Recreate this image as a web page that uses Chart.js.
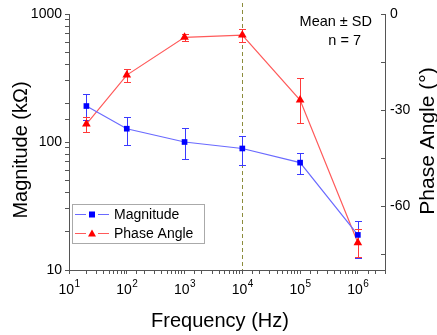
<!DOCTYPE html>
<html>
<head>
<meta charset="utf-8">
<script src="https://cdn.jsdelivr.net/npm/chart.js@4"></script>
<style>
  html, body { margin: 0; padding: 0; background: #fff; }
  #wrap { width: 437px; height: 335px; }
</style>
</head>
<body>
<div id="wrap"><canvas id="myChart" width="437" height="335"></canvas></div>
<script>
// frequency (Hz)
const freqs = [20, 100, 1000, 10000, 100000, 1000000];
// magnitude in kOhm, mean and SD bounds
const magMean = [191, 127, 100, 89, 69, 18.8];
const magHigh = [236, 158, 128, 111, 82, 24];
const magLow  = [148, 94, 74, 66, 56, 12.4];
// phase angle in degrees
const phaseMean = [-34.4, -19.1, -7.3, -6.6, -26.9, -71.5];
const phaseHigh = [-32.3, -17.3, -6.2, -4.8, -20.1, -67.3];
const phaseLow  = [-36.8, -21.2, -8.4, -8.8, -34.0, -76.0];

const xTickValues = [10, 100, 1000, 10000, 100000, 1000000];
const magLabels = [10, 100, 1000];
const phaseLabels = [0, -30, -60];
const markerLine = 10000;

const font = '"Liberation Sans", Arial, sans-serif';
const blue = '#0000ff', blueLine = '#6a6aff';
const red = '#ff0000', redLine = '#ff5a5a';

function pts(vals) {
    return freqs.map((f, i) => ({ x: f, y: vals[i] }));
}

const extras = {
    id: 'extras',
    beforeDatasetsDraw(chart) {
        const ctx = chart.ctx;
        const xs = chart.scales.x, area = chart.chartArea;
        // dashed vertical line at 10^4
        const px = Math.round(xs.getPixelForValue(markerLine)) + 0.5;
        ctx.save();
        ctx.strokeStyle = '#8c8c3c';
        ctx.lineWidth = 1;
        ctx.setLineDash([4, 3]);
        ctx.beginPath();
        ctx.moveTo(px, 3);
        ctx.lineTo(px, area.bottom);
        ctx.stroke();
        ctx.restore();

        // error bars
        const bars = [
            { axis: 'y', hi: magHigh, lo: magLow, col: '#3a3aff' },
            { axis: 'y1', hi: phaseHigh, lo: phaseLow, col: '#ff3a3a' }
        ];
        bars.forEach(b => {
            const ys = chart.scales[b.axis];
            ctx.save();
            ctx.strokeStyle = b.col;
            ctx.lineWidth = 1;
            freqs.forEach((f, i) => {
                const x = Math.round(xs.getPixelForValue(f)) + 0.5;
                const y1 = Math.round(ys.getPixelForValue(b.hi[i])) + 0.5;
                const y2 = Math.round(ys.getPixelForValue(b.lo[i])) + 0.5;
                ctx.beginPath();
                ctx.moveTo(x, y1); ctx.lineTo(x, y2);
                ctx.moveTo(x - 3.5, y1); ctx.lineTo(x + 3.5, y1);
                ctx.moveTo(x - 3.5, y2); ctx.lineTo(x + 3.5, y2);
                ctx.stroke();
            });
            ctx.restore();
        });
    },
    afterDraw(chart) {
        const ctx = chart.ctx;
        const xs = chart.scales.x, ys = chart.scales.y, yr = chart.scales.y1;
        const area = chart.chartArea;
        ctx.save();
        ctx.fillStyle = '#000';

        // tick labels
        ctx.font = '14px ' + font;
        ctx.textBaseline = 'middle';
        ctx.textAlign = 'right';
        magLabels.forEach(v => ctx.fillText(String(v), area.left - 7, ys.getPixelForValue(v)));
        ctx.textAlign = 'left';
        phaseLabels.forEach(v => ctx.fillText(String(v), area.right + 5, yr.getPixelForValue(v)));
        xTickValues.forEach(v => {
            const e = Math.round(Math.log10(v));
            const x = xs.getPixelForValue(v);
            ctx.font = '14px ' + font;
            const w1 = ctx.measureText('10').width;
            ctx.font = '10px ' + font;
            const w2 = ctx.measureText(String(e)).width;
            const x0 = x - (w1 + w2) / 2;
            ctx.textAlign = 'left';
            ctx.textBaseline = 'alphabetic';
            ctx.font = '14px ' + font;
            ctx.fillText('10', x0, area.bottom + 24);
            ctx.font = '10px ' + font;
            ctx.fillText(String(e), x0 + w1 + 0.5, area.bottom + 17);
        });

        // axis titles
        ctx.font = '20px ' + font;
        ctx.textAlign = 'center';
        ctx.textBaseline = 'middle';
        ctx.fillText('Frequency (Hz)', 220, 321);
        ctx.save();
        ctx.translate(21, 150);
        ctx.rotate(-Math.PI / 2);
        ctx.fillText('Magnitude (k\u03A9)', 0, 0);
        ctx.restore();
        ctx.save();
        ctx.translate(428, 141);
        ctx.rotate(-Math.PI / 2);
        ctx.font = '21px ' + font;
        ctx.fillText('Phase Angle (\u00B0)', 0, 0);
        ctx.restore();

        // annotation
        ctx.font = '14.5px ' + font;
        ctx.textAlign = 'right';
        ctx.fillText('Mean \u00B1 SD', 372, 22);
        ctx.fillText('n = 7', 361, 41);

        // legend
        ctx.font = '14px ' + font;
        const lx = 72.5, ly = 204.5, lw = 132, lh = 39;
        ctx.strokeStyle = '#aaaaaa';
        ctx.lineWidth = 1;
        ctx.strokeRect(lx, ly, lw, lh);
        const items = [
            { label: 'Magnitude', line: blueLine, col: blue, shape: 'rect', y: 214 },
            { label: 'Phase Angle', line: redLine, col: red, shape: 'tri', y: 233 }
        ];
        items.forEach(it => {
            ctx.strokeStyle = it.line;
            ctx.beginPath();
            ctx.moveTo(75, it.y + 0.5); ctx.lineTo(86, it.y + 0.5);
            ctx.moveTo(98, it.y + 0.5); ctx.lineTo(109, it.y + 0.5);
            ctx.stroke();
            ctx.fillStyle = it.col;
            if (it.shape === 'rect') {
                ctx.fillRect(89, it.y - 2.5, 6, 6);
            } else {
                ctx.beginPath();
                ctx.moveTo(92, it.y - 3.5);
                ctx.lineTo(96, it.y + 3.5);
                ctx.lineTo(88, it.y + 3.5);
                ctx.closePath();
                ctx.fill();
            }
            ctx.fillStyle = '#000';
            ctx.textAlign = 'left';
            ctx.fillText(it.label, 114, it.y + 1);
        });
        ctx.restore();
    }
};

const ctx = document.getElementById('myChart').getContext('2d');
const myChart = new Chart(ctx, {
    type: 'line',
    data: {
        datasets: [{
            label: 'Magnitude',
            data: pts(magMean),
            yAxisID: 'y',
            borderColor: blueLine,
            backgroundColor: blue,
            borderWidth: 1.2,
            pointStyle: 'rect',
            pointRadius: 4,
            pointBorderWidth: 0,
            pointBackgroundColor: blue,
            tension: 0
        }, {
            label: 'Phase Angle',
            data: pts(phaseMean),
            yAxisID: 'y1',
            borderColor: redLine,
            backgroundColor: red,
            borderWidth: 1.2,
            pointStyle: 'triangle',
            pointRadius: 5,
            pointBorderWidth: 0,
            pointBackgroundColor: red,
            tension: 0
        }]
    },
    options: {
        responsive: false,
        animation: false,
        layout: { padding: { top: 14, left: 0, right: 0, bottom: 0 } },
        plugins: {
            legend: { display: false },
            tooltip: { enabled: false }
        },
        scales: {
            x: {
                type: 'logarithmic',
                min: 10,
                max: 2950000,
                border: { color: '#555', width: 1 },
                grid: { drawOnChartArea: false, drawTicks: true, tickLength: 4, color: '#555' },
                ticks: { autoSkip: false, callback: () => '', font: { size: 1 } },
                afterFit: s => { s.height = 65; }
            },
            y: {
                type: 'logarithmic',
                position: 'left',
                min: 10,
                max: 1000,
                border: { color: '#555', width: 1 },
                grid: { drawOnChartArea: false, drawTicks: true, tickLength: 4, color: '#555' },
                ticks: { autoSkip: false, callback: () => '', font: { size: 1 } },
                afterFit: s => { s.width = 69; }
            },
            y1: {
                type: 'linear',
                position: 'right',
                min: -80,
                max: 0,
                border: { color: '#555', width: 1 },
                grid: { drawOnChartArea: false, drawTicks: true, tickLength: -4, color: '#555' },
                ticks: { stepSize: 15, autoSkip: false, callback: () => '', font: { size: 1 } },
                afterBuildTicks: s => { s.ticks = s.ticks.filter(t => t.value % 15 === 0); },
                afterFit: s => { s.width = 52; }
            }
        }
    },
    plugins: [extras]
});
</script>
</body>
</html>
